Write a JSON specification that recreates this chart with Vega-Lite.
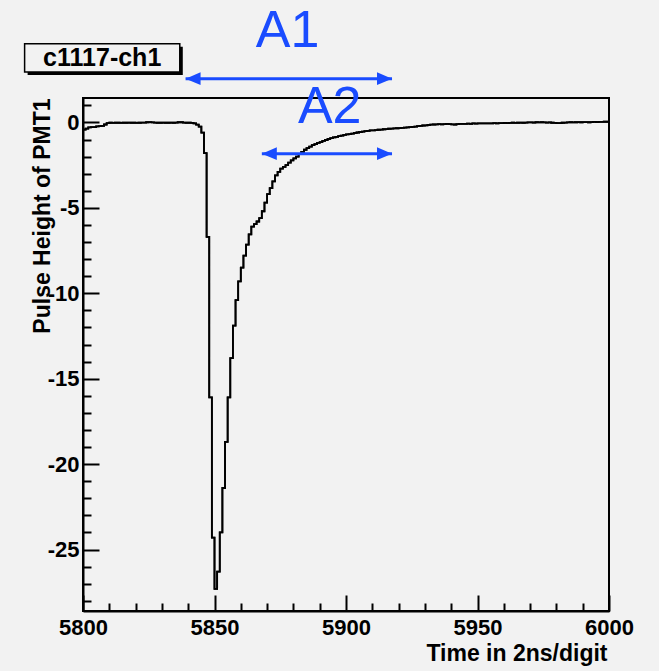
{
  "$schema": "https://vega.github.io/schema/vega-lite/v6.json",
  "width": 526,
  "height": 513,
  "autosize": {"type": "none"},
  "padding": {"left": 83, "top": 98, "right": 50, "bottom": 60},
  "background": "#f2f2f2",
  "config": {
    "view": {"stroke": "#000000", "strokeWidth": 2},
    "axis": {"labelFont": "Liberation Sans", "titleFont": "Liberation Sans", "labelColor": "#000000", "titleColor": "#000000", "tickColor": "#000000", "domainColor": "#000000", "grid": false}
  },
  "datasets": {
    "pulse": [
      {"t":5800,"v":-0.42},{"t":5801,"v":-0.36},{"t":5802,"v":-0.29},{"t":5803,"v":-0.28},{"t":5804,"v":-0.27},
      {"t":5805,"v":-0.23},{"t":5806,"v":-0.22},{"t":5807,"v":-0.2},{"t":5808,"v":-0.12},{"t":5809,"v":-0.04},
      {"t":5810,"v":-0.02},{"t":5811,"v":-0.03},{"t":5812,"v":-0.02},{"t":5813,"v":-0.02},{"t":5814,"v":-0.03},
      {"t":5815,"v":-0.02},{"t":5816,"v":-0.02},{"t":5817,"v":-0.01},{"t":5818,"v":-0.02},{"t":5819,"v":-0.02},
      {"t":5820,"v":-0.03},{"t":5821,"v":-0.02},{"t":5822,"v":-0.01},{"t":5823,"v":-0.01},{"t":5824,"v":0.01},
      {"t":5825,"v":0.02},{"t":5826,"v":0},{"t":5827,"v":-0.01},{"t":5828,"v":-0.02},{"t":5829,"v":-0.02},
      {"t":5830,"v":-0.01},{"t":5831,"v":-0.02},{"t":5832,"v":-0.02},{"t":5833,"v":-0.01},{"t":5834,"v":-0.02},
      {"t":5835,"v":-0.01},{"t":5836,"v":0.01},{"t":5837,"v":0.01},{"t":5838,"v":-0.01},{"t":5839,"v":-0.02},
      {"t":5840,"v":-0.02},{"t":5841,"v":-0.03},{"t":5842,"v":-0.06},{"t":5843,"v":-0.13},{"t":5844,"v":-0.25},
      {"t":5845,"v":-0.6},{"t":5846,"v":-1.8},{"t":5847,"v":-6.7},{"t":5848,"v":-16.1},{"t":5849,"v":-24.3},
      {"t":5850,"v":-27.3},{"t":5851,"v":-26.3},{"t":5852,"v":-24.0},{"t":5853,"v":-21.4},{"t":5854,"v":-18.7},
      {"t":5855,"v":-16.1},{"t":5856,"v":-13.8},{"t":5857,"v":-11.9},{"t":5858,"v":-10.4},{"t":5859,"v":-9.3},
      {"t":5860,"v":-8.5},{"t":5861,"v":-7.8},{"t":5862,"v":-7.15},{"t":5863,"v":-6.55},{"t":5864,"v":-6.1},
      {"t":5865,"v":-5.95},{"t":5866,"v":-5.8},{"t":5867,"v":-5.6},{"t":5868,"v":-5.2},{"t":5869,"v":-4.7},
      {"t":5870,"v":-4.2},{"t":5871,"v":-3.85},{"t":5872,"v":-3.45},{"t":5873,"v":-3.1},{"t":5874,"v":-2.9},
      {"t":5875,"v":-2.7},{"t":5876,"v":-2.6},{"t":5877,"v":-2.5},{"t":5878,"v":-2.35},{"t":5879,"v":-2.22},
      {"t":5880,"v":-2.1},{"t":5881,"v":-2.0},{"t":5882,"v":-1.85},{"t":5883,"v":-1.72},{"t":5884,"v":-1.6},
      {"t":5885,"v":-1.5},{"t":5886,"v":-1.42},{"t":5887,"v":-1.33},{"t":5888,"v":-1.27},{"t":5889,"v":-1.2},
      {"t":5890,"v":-1.15},{"t":5891,"v":-1.08},{"t":5892,"v":-1.03},{"t":5893,"v":-0.97},{"t":5894,"v":-0.92},
      {"t":5895,"v":-0.88},{"t":5896,"v":-0.84},{"t":5897,"v":-0.8},{"t":5898,"v":-0.77},{"t":5899,"v":-0.73},
      {"t":5900,"v":-0.7},{"t":5901,"v":-0.68},{"t":5902,"v":-0.65},{"t":5903,"v":-0.62},{"t":5904,"v":-0.59},
      {"t":5905,"v":-0.56},{"t":5906,"v":-0.54},{"t":5907,"v":-0.51},{"t":5908,"v":-0.49},{"t":5909,"v":-0.47},
      {"t":5910,"v":-0.46},{"t":5911,"v":-0.45},{"t":5912,"v":-0.43},{"t":5913,"v":-0.42},{"t":5914,"v":-0.4},
      {"t":5915,"v":-0.39},{"t":5916,"v":-0.37},{"t":5917,"v":-0.36},{"t":5918,"v":-0.35},{"t":5919,"v":-0.34},
      {"t":5920,"v":-0.33},{"t":5921,"v":-0.32},{"t":5922,"v":-0.3},{"t":5923,"v":-0.29},{"t":5924,"v":-0.28},
      {"t":5925,"v":-0.26},{"t":5926,"v":-0.24},{"t":5927,"v":-0.22},{"t":5928,"v":-0.2},{"t":5929,"v":-0.18},
      {"t":5930,"v":-0.17},{"t":5931,"v":-0.15},{"t":5932,"v":-0.13},{"t":5933,"v":-0.12},{"t":5934,"v":-0.11},
      {"t":5935,"v":-0.1},{"t":5936,"v":-0.11},{"t":5937,"v":-0.1},{"t":5938,"v":-0.09},{"t":5939,"v":-0.1},
      {"t":5940,"v":-0.11},{"t":5941,"v":-0.12},{"t":5942,"v":-0.1},{"t":5943,"v":-0.09},{"t":5944,"v":-0.08},
      {"t":5945,"v":-0.08},{"t":5946,"v":-0.07},{"t":5947,"v":-0.08},{"t":5948,"v":-0.06},{"t":5949,"v":-0.07},
      {"t":5950,"v":-0.06},{"t":5951,"v":-0.05},{"t":5952,"v":-0.06},{"t":5953,"v":-0.05},{"t":5954,"v":-0.05},
      {"t":5955,"v":-0.06},{"t":5956,"v":-0.04},{"t":5957,"v":-0.05},{"t":5958,"v":-0.04},{"t":5959,"v":-0.04},
      {"t":5960,"v":-0.03},{"t":5961,"v":-0.04},{"t":5962,"v":-0.03},{"t":5963,"v":-0.02},{"t":5964,"v":-0.03},
      {"t":5965,"v":-0.02},{"t":5966,"v":-0.01},{"t":5967,"v":-0.02},{"t":5968,"v":-0.01},{"t":5969,"v":0},
      {"t":5970,"v":0},{"t":5971,"v":-0.01},{"t":5972,"v":0.01},{"t":5973,"v":0},{"t":5974,"v":0.01},
      {"t":5975,"v":0},{"t":5976,"v":-0.01},{"t":5977,"v":0},{"t":5978,"v":-0.02},{"t":5979,"v":-0.03},
      {"t":5980,"v":-0.04},{"t":5981,"v":-0.04},{"t":5982,"v":-0.02},{"t":5983,"v":-0.01},{"t":5984,"v":0},
      {"t":5985,"v":0.01},{"t":5986,"v":0},{"t":5987,"v":0.01},{"t":5988,"v":0.02},{"t":5989,"v":0.01},
      {"t":5990,"v":0.02},{"t":5991,"v":0.02},{"t":5992,"v":0.01},{"t":5993,"v":0.02},{"t":5994,"v":0.03},
      {"t":5995,"v":0.02},{"t":5996,"v":0.03},{"t":5997,"v":0.03},{"t":5998,"v":0.04},{"t":5999,"v":0.04},
      {"t":6000,"v":0.04}
    ],
    "labels": [
      {"label": "A1", "t": 5877.8, "v": 5.37},
      {"label": "A2", "t": 5893.8, "v": 0.91}
    ],
    "arrows": [
      {"name": "A1", "start": 5839.0, "end": 5917.5, "v": 2.56},
      {"name": "A2", "start": 5868.0, "end": 5917.5, "v": -1.83}
    ],
    "box": [
      {"name": "c1117-ch1", "t1": 5777.8, "t2": 5836.8, "v1": 4.6, "v2": 2.95, "tc": 5807.3, "vc": 3.78}
    ]
  },
  "resolve": {"axis": {"x": "independent", "y": "independent"}},
  "layer": [
    {
      "data": {"name": "pulse"},
      "mark": {"type": "line", "interpolate": "step-after", "color": "#000000", "strokeWidth": 1.8, "clip": true},
      "encoding": {
        "x": {"field": "t", "type": "quantitative",
          "scale": {"domain": [5800, 6000], "nice": false, "zero": false},
          "axis": {"orient": "bottom", "values": [5810,5820,5830,5840,5860,5870,5880,5890,5910,5920,5930,5940,5960,5970,5980,5990],
            "tickSize": -8, "tickWidth": 2, "labels": false, "domain": false, "title": null}},
        "y": {"field": "v", "type": "quantitative",
          "scale": {"domain": [-28.6, 1.43], "nice": false, "zero": false},
          "axis": {"orient": "left", "values": [-28,-27,-26,-24,-23,-22,-21,-19,-18,-17,-16,-14,-13,-12,-11,-9,-8,-7,-6,-4,-3,-2,-1,1],
            "tickSize": -8, "tickWidth": 2, "labels": false, "domain": false, "title": null}}
      }
    },
    {
      "data": {"name": "pulse"},
      "mark": {"type": "line", "interpolate": "step-after", "color": "#000000", "strokeWidth": 1.8, "clip": true},
      "encoding": {
        "x": {"field": "t", "type": "quantitative",
          "scale": {"domain": [5800, 6000], "nice": false, "zero": false},
          "axis": {"orient": "bottom", "values": [5800,5850,5900,5950,6000], "tickSize": -16, "tickWidth": 2,
            "domainWidth": 2, "labelFontSize": 22, "labelFontWeight": "bold", "labelPadding": 22, "labelFlush": false,
            "labelExpr": "'' + datum.value",
            "title": "Time in 2ns/digit", "titleFontSize": 23, "titleFontWeight": "bold",
            "titleX": 524, "titleY": 49, "titleAlign": "right", "titleBaseline": "alphabetic", "titleAnchor": null}},
        "y": {"field": "v", "type": "quantitative",
          "scale": {"domain": [-28.6, 1.43], "nice": false, "zero": false},
          "axis": {"orient": "left", "values": [-25,-20,-15,-10,-5,0], "tickSize": -16, "tickWidth": 2,
            "domainWidth": 2, "labelFontSize": 22, "labelFontWeight": "bold", "labelPadding": 20, "labelFlush": false,
            "labelExpr": "'' + datum.value",
            "title": "Pulse Height of PMT1", "titleFontSize": 23, "titleFontWeight": "bold",
            "titleX": -41, "titleY": 0, "titleAngle": -90, "titleAlign": "right", "titleBaseline": "middle", "titleAnchor": null}}
      }
    },
    {
      "data": {"name": "box"},
      "mark": {"type": "rect", "fill": "#000000", "xOffset": 3, "x2Offset": 3, "yOffset": 3, "y2Offset": 3},
      "encoding": {
        "x": {"field": "t1", "type": "quantitative", "axis": null},
        "x2": {"field": "t2"},
        "y": {"field": "v1", "type": "quantitative", "axis": null},
        "y2": {"field": "v2"}
      }
    },
    {
      "data": {"name": "box"},
      "mark": {"type": "rect", "fill": "#f2f2f2", "stroke": "#000000", "strokeWidth": 1.5},
      "encoding": {
        "x": {"field": "t1", "type": "quantitative", "axis": null},
        "x2": {"field": "t2"},
        "y": {"field": "v1", "type": "quantitative", "axis": null},
        "y2": {"field": "v2"}
      }
    },
    {
      "data": {"name": "box"},
      "mark": {"type": "text", "font": "Liberation Sans", "fontWeight": "bold", "fontSize": 25, "color": "#000000", "align": "center", "baseline": "middle"},
      "encoding": {
        "x": {"field": "tc", "type": "quantitative", "axis": null},
        "y": {"field": "vc", "type": "quantitative", "axis": null},
        "text": {"field": "name"}
      }
    },
    {
      "data": {"name": "arrows"},
      "mark": {"type": "rule", "color": "#1a4cff", "strokeWidth": 3},
      "encoding": {
        "x": {"field": "start", "type": "quantitative", "axis": null},
        "x2": {"field": "end"},
        "y": {"field": "v", "type": "quantitative", "axis": null}
      }
    },
    {
      "data": {"name": "arrows"},
      "mark": {"type": "point", "shape": "M-1,0L1,-0.85L1,0.85Z", "size": 225, "filled": true, "color": "#1a4cff", "opacity": 1, "xOffset": 7.5},
      "encoding": {
        "x": {"field": "start", "type": "quantitative", "axis": null},
        "y": {"field": "v", "type": "quantitative", "axis": null}
      }
    },
    {
      "data": {"name": "arrows"},
      "mark": {"type": "point", "shape": "M1,0L-1,-0.85L-1,0.85Z", "size": 225, "filled": true, "color": "#1a4cff", "opacity": 1, "xOffset": -7.5},
      "encoding": {
        "x": {"field": "end", "type": "quantitative", "axis": null},
        "y": {"field": "v", "type": "quantitative", "axis": null}
      }
    },
    {
      "data": {"name": "labels"},
      "mark": {"type": "text", "font": "Liberation Sans", "fontSize": 52, "color": "#1a4cff", "align": "center", "baseline": "middle"},
      "encoding": {
        "x": {"field": "t", "type": "quantitative", "axis": null},
        "y": {"field": "v", "type": "quantitative", "axis": null},
        "text": {"field": "label"}
      }
    }
  ]
}
